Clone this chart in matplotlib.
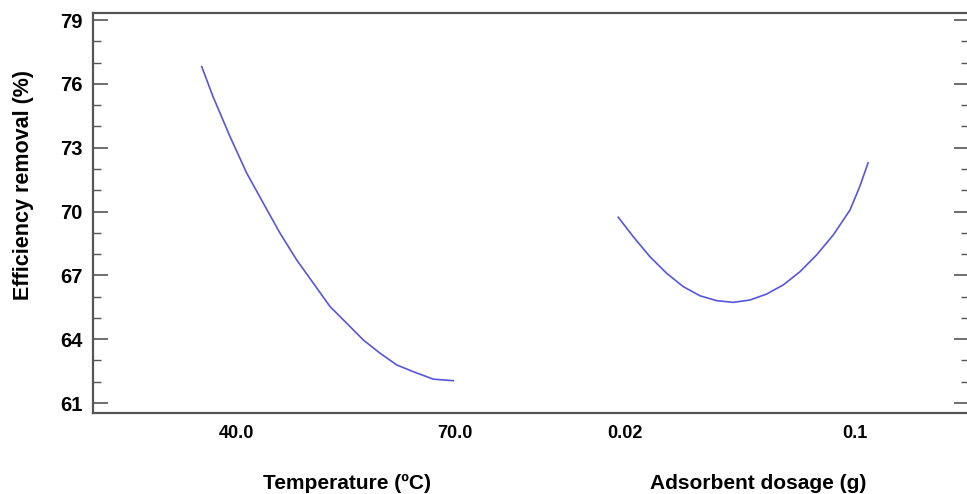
import numpy as np
import matplotlib.pyplot as plt
from matplotlib.ticker import FixedLocator, MultipleLocator

plt.rcParams['font.family'] = ['Liberation Sans', 'DejaVu Sans']
plt.rcParams['font.weight'] = 'bold'

# ------- data -------
temp_c = [35.3, 36.85, 39.18, 41.47, 43.74, 46.03, 48.32, 50.59, 52.88,
          55.16, 57.44, 59.73, 62.01, 64.29, 67.03, 69.77]
eff_temp = [76.81, 75.40, 73.52, 71.80, 70.39, 68.98, 67.72, 66.63, 65.53,
            64.75, 63.96, 63.34, 62.79, 62.47, 62.12, 62.05]

dosage_g = [0.0177, 0.0229, 0.0287, 0.0345, 0.0403, 0.0461, 0.0519, 0.0577,
            0.0635, 0.0693, 0.0751, 0.0809, 0.0867, 0.0925, 0.0983, 0.1017, 0.1046]
eff_dose = [69.73, 68.82, 67.88, 67.10, 66.47, 66.04, 65.81, 65.73,
            65.84, 66.12, 66.55, 67.17, 67.96, 68.90, 70.07, 71.17, 72.29]

y_ticks = [61, 64, 67, 70, 73, 76, 79]
temp_ticks = [40.0, 70.0]
temp_ticklabels = ["40.0", "70.0"]
dose_ticks = [0.02, 0.1]
dose_ticklabels = ["0.02", "0.1"]

line_col = "#5656e0"
frame_col = "#555555"

fig = plt.figure(figsize=(9.67, 4.94), dpi=100)
pos = [93 / 967, 1 - 413 / 494, 876 / 967, 400 / 494]

# main frame with the y axis
ax = fig.add_axes(pos)
ax.set_ylim(60.53, 79.33)
ax.set_xlim(0, 1)
ax.set_xticks([])
ax.yaxis.set_major_locator(FixedLocator(y_ticks))
ax.yaxis.set_minor_locator(MultipleLocator(1))
ax.tick_params(axis="y", which="major", direction="in", length=11, width=1.2,
               color=frame_col, labelsize=14.5, pad=7.5, right=True)
ax.tick_params(axis="y", which="minor", direction="in", length=5.5, width=1.0,
               color=frame_col, right=True)
for s in ax.spines.values():
    s.set_color(frame_col)
    s.set_linewidth(1.6)
ax.set_ylabel("Efficiency removal (%)", fontsize=15.5, fontweight="bold")
ax.yaxis.set_label_coords(-0.067, 0.57)

# temperature factor
ax_t = fig.add_axes(pos, sharey=ax)
ax_t.patch.set_visible(False)
for s in ax_t.spines.values():
    s.set_visible(False)
ax_t.set_xlim(20.41, 140.4)
ax_t.plot(temp_c, eff_temp, color=line_col, lw=1.2)
ax_t.set_xticks(temp_ticks)
ax_t.set_xticklabels(temp_ticklabels)
ax_t.tick_params(axis="x", length=0, labelsize=13, pad=9)
ax_t.tick_params(axis="y", which="both", left=False, right=False, labelleft=False)
ax_t.set_xlabel("Temperature (\u00baC)", fontsize=15, fontweight="bold")
ax_t.xaxis.set_label_coords(0.29, -0.152)

# adsorbent dosage factor
ax_d = fig.add_axes(pos, sharey=ax)
ax_d.patch.set_visible(False)
for s in ax_d.spines.values():
    s.set_visible(False)
ax_d.set_xlim(-0.165, 0.1397)
ax_d.plot(dosage_g, eff_dose, color=line_col, lw=1.2)
ax_d.set_xticks(dose_ticks)
ax_d.set_xticklabels(dose_ticklabels)
ax_d.tick_params(axis="x", length=0, labelsize=13, pad=9)
ax_d.tick_params(axis="y", which="both", left=False, right=False, labelleft=False)
ax_d.set_xlabel("Adsorbent dosage (g)", fontsize=15, fontweight="bold")
ax_d.xaxis.set_label_coords(0.759, -0.152)

fig.savefig("out.png", dpi=100)
